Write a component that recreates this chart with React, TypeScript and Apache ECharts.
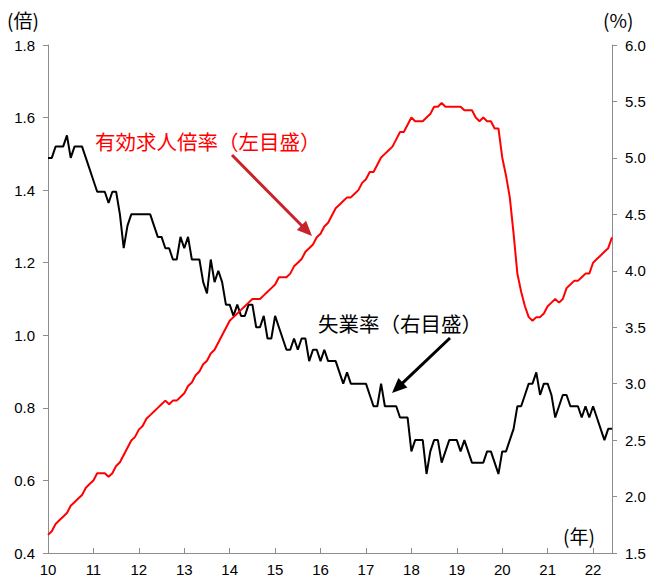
import React, { useEffect, useRef } from "react";
import * as echarts from "echarts";

// Monthly, Jan 2010 – Jun 2022
const ratio2010 = [0.45, 0.46, 0.48, 0.49, 0.50, 0.51, 0.53, 0.54, 0.55, 0.56, 0.58, 0.59];
const ratio2011 = [0.60, 0.62, 0.62, 0.62, 0.61, 0.62, 0.64, 0.65, 0.67, 0.69, 0.71, 0.72];
const ratio2012 = [0.74, 0.75, 0.77, 0.78, 0.79, 0.80, 0.81, 0.82, 0.81, 0.82, 0.82, 0.83];
const ratio2013 = [0.84, 0.86, 0.87, 0.89, 0.90, 0.92, 0.93, 0.95, 0.96, 0.98, 1.00, 1.02];
const ratio2014 = [1.04, 1.05, 1.06, 1.07, 1.08, 1.09, 1.10, 1.10, 1.10, 1.11, 1.12, 1.13];
const ratio2015 = [1.14, 1.16, 1.16, 1.16, 1.17, 1.19, 1.20, 1.21, 1.23, 1.24, 1.25, 1.27];
const ratio2016 = [1.28, 1.30, 1.31, 1.33, 1.35, 1.36, 1.37, 1.38, 1.38, 1.39, 1.40, 1.42];
const ratio2017 = [1.43, 1.45, 1.45, 1.47, 1.49, 1.50, 1.51, 1.52, 1.54, 1.56, 1.56, 1.58];
const ratio2018 = [1.60, 1.59, 1.59, 1.59, 1.60, 1.61, 1.63, 1.63, 1.64, 1.63, 1.63, 1.63];
const ratio2019 = [1.63, 1.63, 1.62, 1.62, 1.62, 1.60, 1.59, 1.60, 1.59, 1.59, 1.57, 1.57];
const ratio2020 = [1.49, 1.44, 1.38, 1.28, 1.17, 1.12, 1.08, 1.05, 1.04, 1.05, 1.05, 1.06];
const ratio2021 = [1.08, 1.09, 1.10, 1.09, 1.10, 1.13, 1.14, 1.15, 1.15, 1.16, 1.17, 1.17];
const ratio2022 = [1.20, 1.21, 1.22, 1.23, 1.24, 1.27];

const unemp2010 = [5.0, 5.0, 5.1, 5.1, 5.1, 5.2, 5.0, 5.1, 5.1, 5.1, 5.0, 4.9];
const unemp2011 = [4.8, 4.7, 4.7, 4.7, 4.6, 4.7, 4.7, 4.5, 4.2, 4.4, 4.5, 4.5];
const unemp2012 = [4.5, 4.5, 4.5, 4.5, 4.4, 4.3, 4.3, 4.2, 4.2, 4.1, 4.1, 4.3];
const unemp2013 = [4.2, 4.3, 4.1, 4.1, 4.1, 3.9, 3.8, 4.1, 3.9, 4.0, 3.9, 3.7];
const unemp2014 = [3.7, 3.6, 3.7, 3.6, 3.6, 3.7, 3.7, 3.5, 3.5, 3.6, 3.4, 3.4];
const unemp2015 = [3.6, 3.5, 3.4, 3.3, 3.3, 3.4, 3.3, 3.4, 3.4, 3.2, 3.3, 3.3];
const unemp2016 = [3.2, 3.3, 3.2, 3.2, 3.2, 3.1, 3.0, 3.1, 3.0, 3.0, 3.0, 3.0];
const unemp2017 = [3.0, 2.9, 2.8, 2.8, 3.0, 2.8, 2.8, 2.8, 2.8, 2.7, 2.7, 2.7];
const unemp2018 = [2.4, 2.5, 2.5, 2.5, 2.2, 2.4, 2.5, 2.5, 2.3, 2.4, 2.5, 2.5];
const unemp2019 = [2.5, 2.4, 2.5, 2.4, 2.3, 2.3, 2.3, 2.3, 2.4, 2.4, 2.3, 2.2];
const unemp2020 = [2.4, 2.4, 2.5, 2.6, 2.8, 2.8, 2.9, 3.0, 3.0, 3.1, 2.9, 3.0];
const unemp2021 = [3.0, 2.9, 2.7, 2.8, 2.9, 2.9, 2.8, 2.8, 2.8, 2.7, 2.8, 2.7];
const unemp2022 = [2.8, 2.7, 2.6, 2.5, 2.6, 2.6];

const yearLabels = ["10", "11", "12", "13", "14", "15", "16", "17", "18", "19", "20", "21", "22"];
const leftTicks = { min: 0.4, max: 1.8, interval: 0.2 };
const rightTicks = { min: 1.5, max: 6.0, interval: 0.5 };

const ratio = [
  ...ratio2010, ...ratio2011, ...ratio2012, ...ratio2013, ...ratio2014, ...ratio2015, ...ratio2016,
  ...ratio2017, ...ratio2018, ...ratio2019, ...ratio2020, ...ratio2021, ...ratio2022,
];
const unemp = [
  ...unemp2010, ...unemp2011, ...unemp2012, ...unemp2013, ...unemp2014, ...unemp2015, ...unemp2016,
  ...unemp2017, ...unemp2018, ...unemp2019, ...unemp2020, ...unemp2021, ...unemp2022,
];
const categories = ratio.map((_, i) => (i % 12 === 0 ? yearLabels[i / 12] : ""));

const NUM_FONT = "'Liberation Sans', Arial, sans-serif";
const JP_FONT = "'Noto Sans CJK JP', 'Noto Sans', sans-serif";
const AXIS_GREY = "#8c8c8c";

function arrow(x1: number, y1: number, tx: number, ty: number, color: string, len = 15, half = 6.5, width = 3) {
  const dx = tx - x1;
  const dy = ty - y1;
  const d = Math.sqrt(dx * dx + dy * dy);
  const ux = dx / d;
  const uy = dy / d;
  const bx = tx - ux * len;
  const by = ty - uy * len;
  const nx = -uy;
  const ny = ux;
  return [
    {
      type: "line",
      shape: { x1, y1, x2: bx + ux * 2, y2: by + uy * 2 },
      style: { stroke: color, lineWidth: width },
    },
    {
      type: "polygon",
      shape: {
        points: [
          [tx, ty],
          [bx + nx * half, by + ny * half],
          [bx - nx * half, by - ny * half],
        ],
      },
      style: { fill: color },
    },
  ];
}

export default function App() {
  const ref = useRef<HTMLDivElement>(null);
  useEffect(() => {
    if (!ref.current) return;
    const chart = echarts.init(ref.current, undefined, { renderer: "svg" });
    const isYear = (idx: number) => idx % 12 === 0;
    chart.setOption({
      animation: false,
      backgroundColor: "#ffffff",
      grid: { left: 48, right: 49, top: 45, bottom: 23, containLabel: false },
      xAxis: {
        type: "category",
        data: categories,
        boundaryGap: false,
        axisLine: { show: true, lineStyle: { color: AXIS_GREY, width: 1 } },
        axisTick: { show: true, inside: true, length: 5, interval: isYear, lineStyle: { color: AXIS_GREY } },
        axisLabel: { interval: isYear, margin: 9, color: "#000", fontSize: 15, fontFamily: NUM_FONT },
        splitLine: { show: false },
      },
      yAxis: [
        {
          type: "value",
          min: leftTicks.min,
          max: leftTicks.max,
          interval: leftTicks.interval,
          axisLine: { show: true, lineStyle: { color: AXIS_GREY, width: 1 } },
          axisTick: { show: true, inside: false, length: 5, lineStyle: { color: AXIS_GREY } },
          axisLabel: {
            formatter: (v: number) => v.toFixed(1),
            margin: 13,
            color: "#000",
            fontSize: 15,
            fontFamily: NUM_FONT,
          },
          splitLine: { show: false },
        },
        {
          type: "value",
          position: "right",
          min: rightTicks.min,
          max: rightTicks.max,
          interval: rightTicks.interval,
          axisLine: { show: true, lineStyle: { color: AXIS_GREY, width: 1 } },
          axisTick: { show: true, inside: false, length: 5, lineStyle: { color: AXIS_GREY } },
          axisLabel: {
            formatter: (v: number) => v.toFixed(1),
            margin: 13,
            color: "#000",
            fontSize: 15,
            fontFamily: NUM_FONT,
          },
          splitLine: { show: false },
        },
      ],
      series: [
        {
          name: "有効求人倍率",
          type: "line",
          data: ratio,
          yAxisIndex: 0,
          symbol: "none",
          lineStyle: { color: "#ff0000", width: 2 },
          z: 3,
        },
        {
          name: "失業率",
          type: "line",
          data: unemp,
          yAxisIndex: 1,
          symbol: "none",
          lineStyle: { color: "#000000", width: 2 },
          z: 2,
        },
      ],
      graphic: [
        { type: "text", x: 7, y: 19, style: { text: "(倍)", fontSize: 19, fill: "#000", fontFamily: JP_FONT, verticalAlign: "middle" } },
        { type: "text", x: 603, y: 19, style: { text: "(%)", fontSize: 19, fill: "#000", fontFamily: JP_FONT, verticalAlign: "middle" } },
        { type: "text", x: 563, y: 535, style: { text: "(年)", fontSize: 19, fill: "#000", fontFamily: JP_FONT, verticalAlign: "middle" } },
        {
          type: "text",
          x: 95,
          y: 141,
          style: { text: "有効求人倍率（左目盛）", fontSize: 20.5, fill: "#ff0000", fontFamily: JP_FONT, verticalAlign: "middle" },
        },
        {
          type: "text",
          x: 318,
          y: 323,
          style: { text: "失業率（右目盛）", fontSize: 20.5, fill: "#000", fontFamily: JP_FONT, verticalAlign: "middle" },
        },
        ...arrow(232, 155, 312, 236, "#c8232b"),
        ...arrow(450, 338, 392, 393, "#000000"),
      ],
    });
    return () => chart.dispose();
  }, []);
  return (
    <div
      ref={ref}
      style={{ position: "absolute", left: 0, top: 0, width: 661, height: 577, background: "#fff" }}
    />
  );
}
